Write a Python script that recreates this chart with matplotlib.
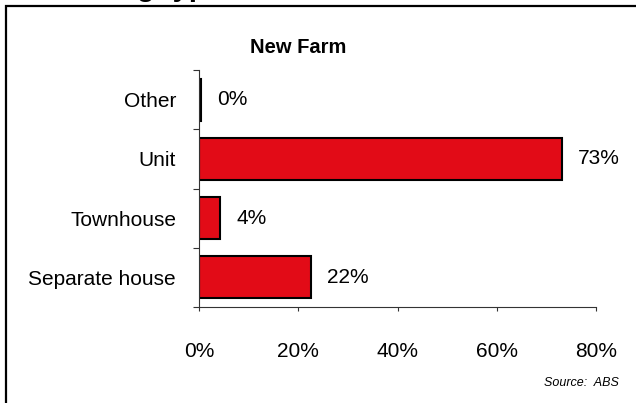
import matplotlib.pyplot as plt
from matplotlib.patches import Rectangle

# dwelling structure, New Farm (share of dwellings, %)
categories = ["Separate house", "Townhouse", "Unit", "Other"]
shares = [22.6, 4.3, 73.2, 0.5]
share_labels = ["22%", "4%", "73%", "0%"]
x_ticks = [0, 20, 40, 60, 80]
x_tick_labels = ["0%", "20%", "40%", "60%", "80%"]

plt.rcParams["font.family"] = ["Liberation Sans", "DejaVu Sans"]

fig = plt.figure(figsize=(6.36, 4.03), dpi=100)
ax = fig.add_axes([0.3129, 0.2382, 0.6242, 0.5881])

pos = list(range(len(categories)))
ax.barh(pos, shares, height=0.71, color="#E20B17", edgecolor="black", linewidth=1.5)

for p, v, lab in zip(pos, shares, share_labels):
    ax.annotate(lab, (v, p), xytext=(11.5, 0), textcoords="offset points",
                ha="left", va="center", fontsize=15)

ax.set_xlim(0, 80)
ax.set_ylim(-0.5, 3.5)
ax.set_xticks(x_ticks)
ax.set_xticklabels(x_tick_labels, fontsize=15)
ax.set_yticks(pos)
ax.set_yticklabels(categories, fontsize=15)
ax.set_yticks([-0.5, 0.5, 1.5, 2.5, 3.5], minor=True)
ax.tick_params(axis="y", which="major", length=0, pad=16.5)
ax.tick_params(axis="y", which="minor", length=4, width=0.8, color="#333333")
ax.tick_params(axis="x", length=3, width=0.8, color="#333333", pad=22)

for s in ["top", "right"]:
    ax.spines[s].set_visible(False)
for s in ["left", "bottom"]:
    ax.spines[s].set_linewidth(0.8)
    ax.spines[s].set_color("#333333")

ax.set_title("New Farm", fontsize=14.5, fontweight="bold", x=0.25, y=1.0, pad=12)

# outer frame and the page heading, which is cut off at the top as in the source
fig.patches.append(Rectangle((5.5 / 636, -0.1), 1.2, 1.1 - 6 / 403, transform=fig.transFigure,
                             fill=False, edgecolor="black", linewidth=1.6))
fig.text(35 / 636, 1 + 3.5 / 403, "Dwelling type", fontsize=21, fontweight="bold",
         ha="left", va="baseline")
fig.text(619 / 636, 20 / 403, "Source:  ABS", fontsize=9, style="italic",
         ha="right", va="center")

fig.savefig("out.png", dpi=100)
